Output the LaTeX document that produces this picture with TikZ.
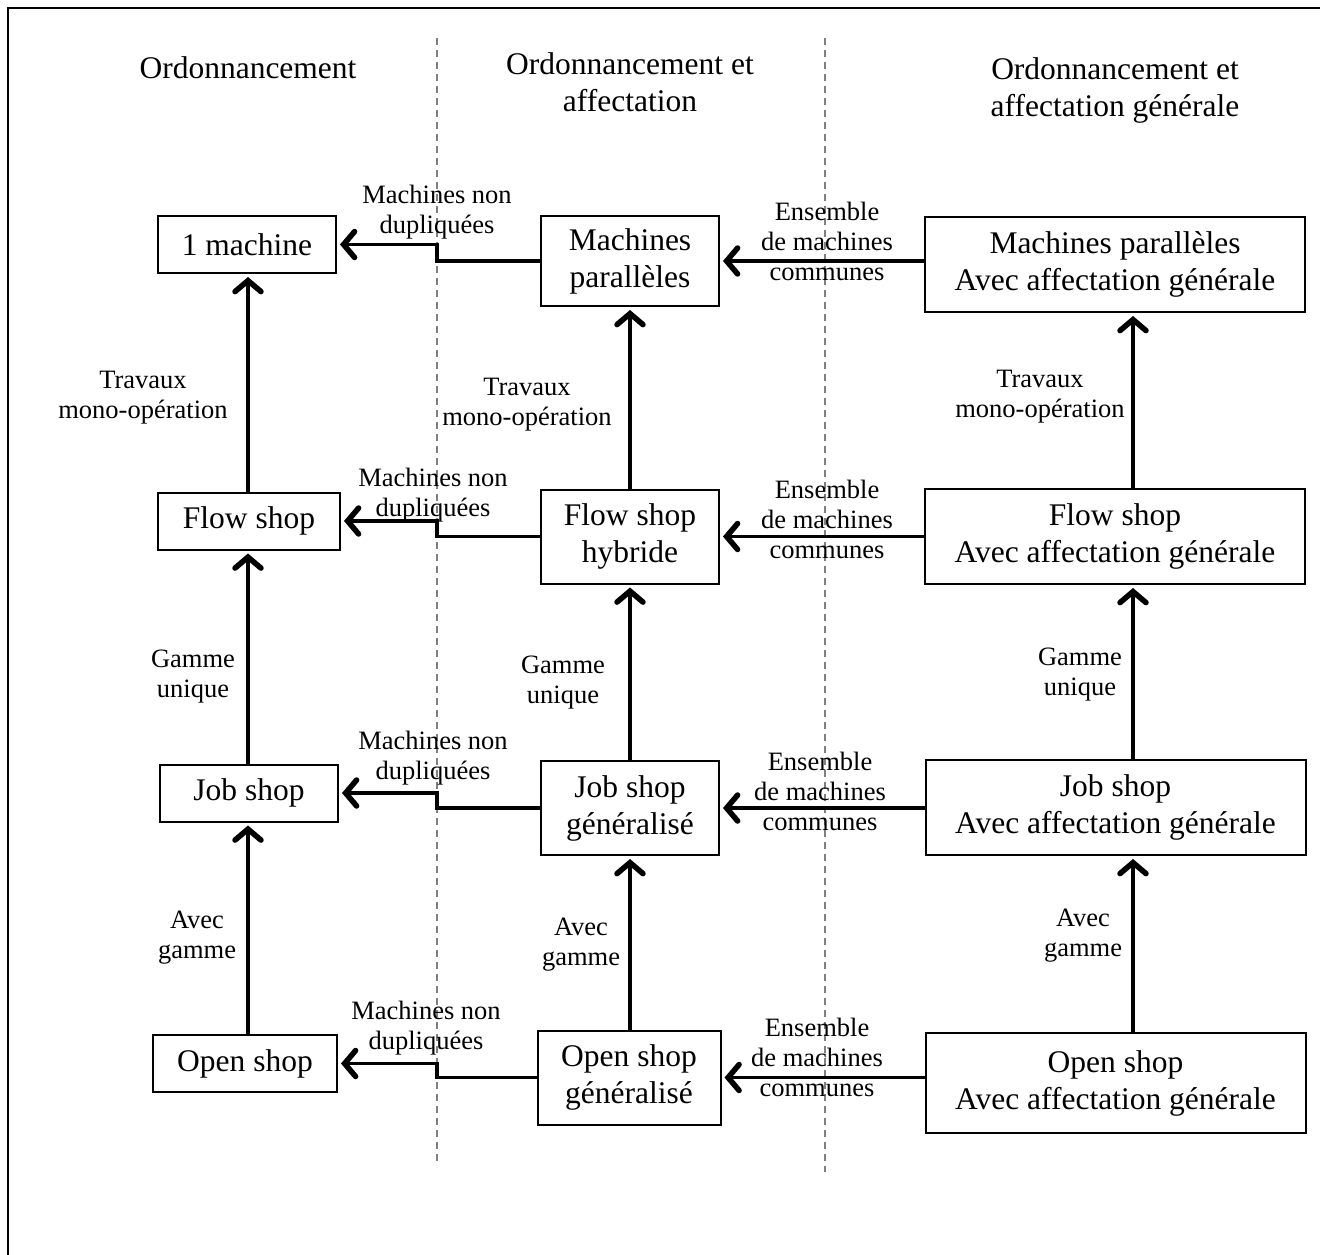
\documentclass[tikz,border=0pt]{standalone}
\usepackage{fontspec}
\setmainfont{Liberation Serif}
\usetikzlibrary{arrows.meta}

\tikzset{
  boxtxt/.style={font=\fontsize{31.5}{37}\selectfont},
  lbltxt/.style={font=\fontsize{26.5}{30}\selectfont, align=center, inner sep=0pt},
  hdr/.style={boxtxt, align=center, inner sep=0pt},
  box/.style={draw, line width=2pt, boxtxt, align=center, inner sep=0pt},
  smallbox/.style={box, minimum height=57pt},
  midbox/.style={box, minimum width=178pt, minimum height=94pt},
  widebox/.style={box, minimum width=380pt, minimum height=95pt},
  arr/.style={line width=3.8pt, -{Straight Barb[length=11pt,width=26pt,line width=5.5pt,line cap=round]}, shorten >=3pt},
  divider/.style={line width=1.8pt, draw=black!50, dash pattern=on 7pt off 5pt},
  frame/.style={line width=2pt}
}

\begin{document}
\begin{tikzpicture}[x=1pt, y=-1pt]
  \useasboundingbox (0,0) rectangle (1320,1254);

  % outer frame (top and left edges)
  \draw[frame] (8,1260) -- (8,7.5) -- (1325,7.5);

  % column dividers
  \coordinate (dA) at (437,38);
  \coordinate (dAb) at (437,1164);
  \coordinate (dB) at (825,38);
  \coordinate (dBb) at (825,1172);
  \draw[divider] (dA) -- (dAb);
  \draw[divider] (dB) -- (dBb);

  % axes of the vertical arrows
  \coordinate (ax1) at (248,0);
  \coordinate (ax2) at (630,0);
  \coordinate (ax3) at (1133,0);

  % column headers
  \node[hdr] (h1) at (248,68) {Ordonnancement};
  \node[hdr] (h2) at (630,82) {Ordonnancement et\\affectation};
  \node[hdr] (h3) at (1115,90) {Ordonnancement et\\affectation générale};

  % first column
  \node[smallbox, minimum width=178pt] (m1) at (247,244.5) {1 machine};
  \node[smallbox, minimum width=182pt] (fs) at (249,521) {Flow shop};
  \node[smallbox, minimum width=178pt] (js) at (249,793) {Job shop};
  \node[smallbox, minimum width=184pt] (os) at (245,1063.5) {Open shop};

  % second column
  \node[midbox, minimum height=90pt] (mp) at (630,261) {Machines\\parallèles};
  \node[midbox] (fsh) at (630,536.5) {Flow shop\\hybride};
  \node[midbox] (jsg) at (630,808) {Job shop\\généralisé};
  \node[midbox, minimum width=183pt] (osg) at (629,1077.5) {Open shop\\généralisé};

  % third column
  \node[widebox] (mpa) at (1115,264.5) {Machines parallèles\\Avec affectation générale};
  \node[widebox] (fsa) at (1115,536.5) {Flow shop\\Avec affectation générale};
  \node[widebox] (jsa) at (1115.5,807.5) {Job shop\\Avec affectation générale};
  \node[widebox, minimum height=100pt] (osa) at (1115.5,1083) {Open shop\\Avec affectation générale};

  % vertical arrows
  \draw[arr] (fs.north -| ax1) -- (m1.south -| ax1);
  \draw[arr] (js.north -| ax1) -- (fs.south -| ax1);
  \draw[arr] (os.north -| ax1) -- (js.south -| ax1);
  \draw[arr] (fsh.north -| ax2) -- (mp.south -| ax2);
  \draw[arr] (jsg.north -| ax2) -- (fsh.south -| ax2);
  \draw[arr] (osg.north -| ax2) -- (jsg.south -| ax2);
  \draw[arr] (fsa.north -| ax3) -- (mpa.south -| ax3);
  \draw[arr] (jsa.north -| ax3) -- (fsa.south -| ax3);
  \draw[arr] (osa.north -| ax3) -- (jsa.south -| ax3);

  % horizontal arrows, third to second column
  \draw[arr] (mpa.west |- mp.east) -- (mp.east);
  \draw[arr] (fsa.west |- fsh.east) -- (fsh.east);
  \draw[arr] (jsa.west |- jsg.east) -- (jsg.east);
  \draw[arr] (osa.west |- osg.east) -- (osg.east);

  % stepped arrows, second to first column
  \draw[arr] (mp.west) -- (mp.west -| dA) |- (m1.east);
  \draw[arr] (fsh.west) -- (fsh.west -| dA) |- (fs.east);
  \draw[arr] (jsg.west) -- (jsg.west -| dA) |- (js.east);
  \draw[arr] (osg.west) -- (osg.west -| dA) |- (os.east);

  % labels of the horizontal arrows
  \node[lbltxt] (r1) at (437,212) {Machines non\\dupliquées};
  \node[lbltxt] (r2) at (433,495) {Machines non\\dupliquées};
  \node[lbltxt] (r3) at (433,758) {Machines non\\dupliquées};
  \node[lbltxt] (r4) at (426,1028) {Machines non\\dupliquées};
  \node[lbltxt] (e1) at (827,241) {Ensemble\\de machines\\communes};
  \node[lbltxt] (e2) at (827,519) {Ensemble\\de machines\\communes};
  \node[lbltxt] (e3) at (820,791) {Ensemble\\de machines\\communes};
  \node[lbltxt] (e4) at (817,1057) {Ensemble\\de machines\\communes};

  % labels of the vertical arrows
  \node[lbltxt] (t1) at (143,398) {Travaux\\mono-opération};
  \node[lbltxt] (t2) at (527,405) {Travaux\\mono-opération};
  \node[lbltxt] (t3) at (1040,397) {Travaux\\mono-opération};
  \node[lbltxt] (g1) at (193,677) {Gamme\\unique};
  \node[lbltxt] (g2) at (563,683) {Gamme\\unique};
  \node[lbltxt] (g3) at (1080,675) {Gamme\\unique};
  \node[lbltxt] (a1) at (197,938) {Avec\\gamme};
  \node[lbltxt] (a2) at (581,945) {Avec\\gamme};
  \node[lbltxt] (a3) at (1083,936) {Avec\\gamme};
\end{tikzpicture}
\end{document}
